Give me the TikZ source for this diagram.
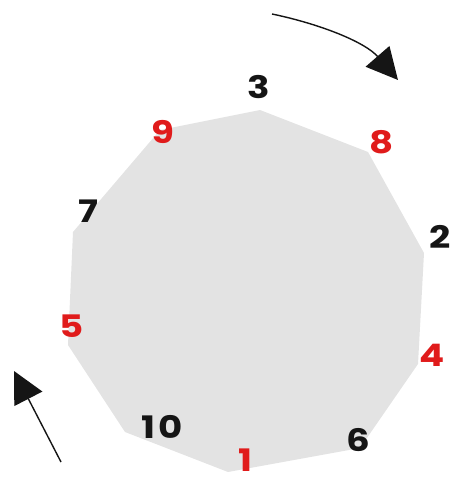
\documentclass[tikz,border=0pt]{standalone}
\usepackage{fontspec}
\setmainfont{Poppins}
\newfontfamily\digitfont[FakeStretch=1.2]{Poppins}
\usepackage{tikz}
\usetikzlibrary{arrows.meta}
\definecolor{panel}{HTML}{E3E3E3}
\definecolor{hot}{HTML}{E01B1B}
\definecolor{ink}{HTML}{151515}
\tikzset{num/.style={font=\digitfont\bfseries\fontsize{31}{31}\selectfont,text=ink,inner sep=0pt},rednum/.style={num,text=hot},turn/.style={-{Triangle[length=11mm,width=11mm]},line width=1.4pt,draw=ink}}
\begin{document}
\begin{tikzpicture}[x=1pt,y=-1pt]
\useasboundingbox (0,0) rectangle (456,481);
% corners of the decagon
\coordinate (c3) at (260,110);\coordinate (c8) at (368,152);\coordinate (c2) at (424,253);\coordinate (c4) at (418,364);\coordinate (c6) at (360,448);
\coordinate (c1) at (228,472);\coordinate (c10) at (125,432);\coordinate (c5) at (68,345);\coordinate (c7) at (73,232);\coordinate (c9) at (160,130);
\fill[panel] (c3)--(c8)--(c2)--(c4)--(c6)--(c1)--(c10)--(c5)--(c7)--(c9)--cycle;
\node[num] (n3) at (259,87) {3};
\node[rednum] (n9) at (163,132) {9};
\node[rednum] (n8) at (382,142) {8};
\node[num] (n7) at (88,211) {7};
\node[num] (n2) at (440,237) {2};
\node[rednum] (n5) at (72,326) {5};
\node[rednum] (n4) at (432,355) {4};
\node[num] (n10) at (162,427) {1\kern3pt 0};
\node[num] (n6) at (358,440) {6};
\node[rednum] (n1) at (245,460) {1};
% turning arrows
\coordinate (ta) at (272,14);\coordinate (tb) at (398,80);
\coordinate (ba) at (61,462);\coordinate (bb) at (14,371);
\draw[turn] (ta) .. controls (320,24) and (365,42) .. (tb);
\draw[turn] (ba) -- (bb);
\end{tikzpicture}
\end{document}
